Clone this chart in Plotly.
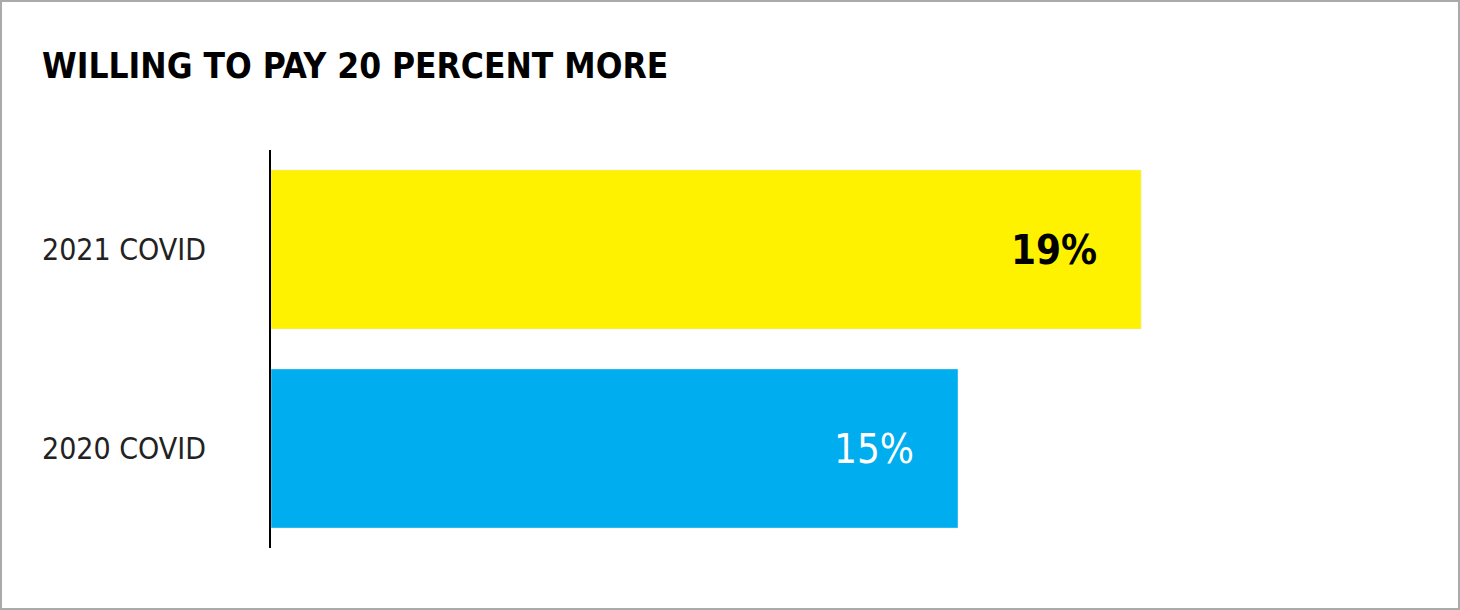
import plotly.graph_objects as go

categories = ["2020 COVID", "2021 COVID"]
values = [15, 19]
labels = ["15%", "19%"]
colors = ["#00ADEE", "#FFF200"]
label_colors = ["white", "black"]
label_bold = [False, True]

W, H = 1460, 610
L, R, T, B = 271, 44, 150, 62
pw, ph = W - L - R, H - T - B
FONT = "DejaVu Sans Condensed, Liberation Sans Narrow, sans-serif"

fig = go.Figure(go.Bar(
    y=categories, x=values, orientation="h", marker_color=colors,
    width=0.8, hoverinfo="skip"))

ann = []
for c, v, t, col, b in zip(categories, values, labels, label_colors, label_bold):
    ann.append(dict(x=v, y=c, xref="x", yref="y", text=f"<b>{t}</b>" if b else t,
                    xanchor="right", xshift=-42, showarrow=False,
                    font=dict(family=FONT, size=40, color=col)))
    ann.append(dict(x=-(L - 40) / pw, y=c, xref="paper", yref="y", text=c,
                    xanchor="left", showarrow=False,
                    font=dict(family=FONT, size=30, color="#222")))
ann.append(dict(x=-(L - 40) / pw, y=1 + (T - 66) / ph, xref="paper", yref="paper",
                text="<b>WILLING TO PAY 20 PERCENT MORE</b>", xanchor="left",
                yanchor="middle", showarrow=False,
                font=dict(family=FONT, size=35, color="black")))

fig.update_layout(
    width=W, height=H, margin=dict(l=L, r=R, t=T, b=B),
    plot_bgcolor="white", paper_bgcolor="white", showlegend=False,
    xaxis=dict(range=[0, 25], visible=False, fixedrange=True),
    yaxis=dict(showticklabels=False, showline=True, linecolor="black", linewidth=2,
               ticks="", showgrid=False, range=[-0.5, 1.5]),
    annotations=ann,
    shapes=[dict(type="rect", xref="paper", yref="paper",
                 x0=-(L - 1) / pw, x1=1 + (R - 1) / pw,
                 y0=-(B - 1) / ph, y1=1 + (T - 1) / ph,
                 line=dict(color="#aaaaaa", width=2), layer="below")],
)
fig.write_html("out.html", config={"displayModeBar": False})
with open("out.html", encoding="utf-8") as f:
    html = f.read()
html = html.replace("<head>", "<head><style>html,body{margin:0;padding:0;overflow:hidden;}</style>", 1)
with open("out.html", "w", encoding="utf-8") as f:
    f.write(html)
